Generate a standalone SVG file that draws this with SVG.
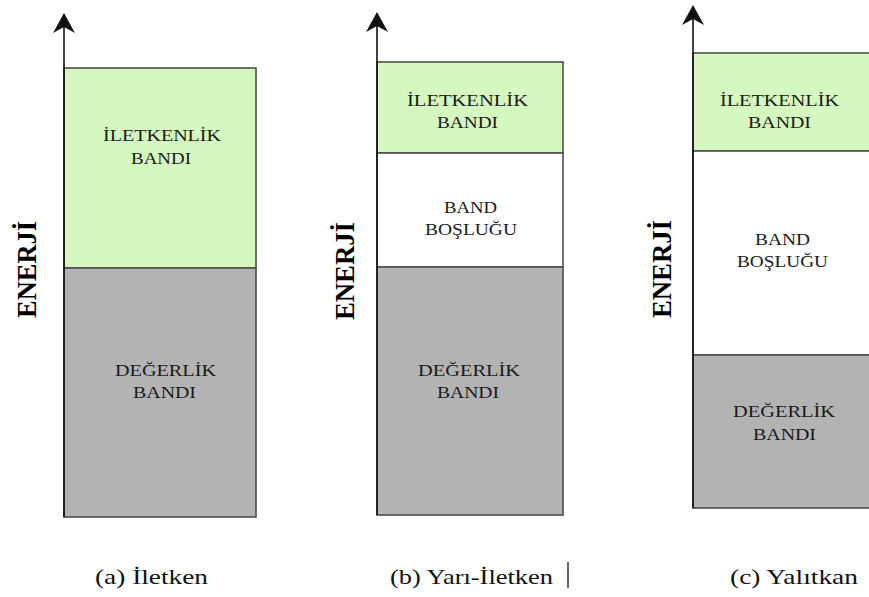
<svg xmlns="http://www.w3.org/2000/svg" width="869" height="597" viewBox="0 0 869 597">
<style>
.cb{fill:#d4f8bf;stroke:#4d4d4d;stroke-width:1.6}
.vb{fill:#b3b3b3;stroke:#4d4d4d;stroke-width:1.6}
.gap{fill:#ffffff;stroke:#4d4d4d;stroke-width:1.6}
text{font-family:'Liberation Serif','DejaVu Serif','Times New Roman',serif}
.lbl{font-size:17px;fill:#1a1a1a}
.cap{font-size:21px;fill:#111}
.en{font-size:28px;font-weight:bold;fill:#000}
.axis{stroke:#111;stroke-width:1.6;fill:none}
.head{fill:#111}
</style>
<rect width="869" height="597" fill="#ffffff"/>

<g id="panel-a">
  <rect class="cb" x="64" y="68" width="192" height="200"/>
  <rect class="vb" x="64" y="268" width="192" height="249"/>
  <text class="lbl" x="103" y="141" textLength="118" lengthAdjust="spacingAndGlyphs">İLETKENLİK</text>
  <text class="lbl" x="131" y="164" textLength="60" lengthAdjust="spacingAndGlyphs">BANDI</text>
  <text class="lbl" x="115" y="376" textLength="101" lengthAdjust="spacingAndGlyphs">DEĞERLİK</text>
  <text class="lbl" x="133" y="398" textLength="63" lengthAdjust="spacingAndGlyphs">BANDI</text>
  <text class="en" transform="translate(36,318) rotate(-90)" textLength="97" lengthAdjust="spacingAndGlyphs">ENERJİ</text>
  <text class="cap" x="95" y="584" textLength="113" lengthAdjust="spacingAndGlyphs">(a)  İletken</text>
</g>

<g id="panel-b">
  <rect class="cb" x="377" y="62" width="186" height="91"/>
  <rect class="gap" x="377" y="153" width="186" height="114"/>
  <rect class="vb" x="377" y="267" width="186" height="248"/>
  <text class="lbl" x="407" y="106" textLength="121" lengthAdjust="spacingAndGlyphs">İLETKENLİK</text>
  <text class="lbl" x="437" y="128" textLength="61" lengthAdjust="spacingAndGlyphs">BANDI</text>
  <text class="lbl" x="444" y="213" textLength="53" lengthAdjust="spacingAndGlyphs">BAND</text>
  <text class="lbl" x="425" y="235" textLength="92" lengthAdjust="spacingAndGlyphs">BOŞLUĞU</text>
  <text class="lbl" x="418" y="376" textLength="102" lengthAdjust="spacingAndGlyphs">DEĞERLİK</text>
  <text class="lbl" x="437" y="398" textLength="62" lengthAdjust="spacingAndGlyphs">BANDI</text>
  <text class="en" transform="translate(354,320) rotate(-90)" textLength="98" lengthAdjust="spacingAndGlyphs">ENERJİ</text>
  <text class="cap" x="390" y="584" textLength="163" lengthAdjust="spacingAndGlyphs">(b) Yarı-İletken</text>
  <line x1="568" y1="562" x2="568" y2="588" stroke="#333" stroke-width="1.5"/>
</g>

<g id="panel-c">
  <rect class="cb" x="693" y="53" width="190" height="98"/>
  <rect class="gap" x="693" y="151" width="190" height="204"/>
  <rect class="vb" x="693" y="355" width="190" height="153"/>
  <text class="lbl" x="720" y="106" textLength="119" lengthAdjust="spacingAndGlyphs">İLETKENLİK</text>
  <text class="lbl" x="748" y="128" textLength="63" lengthAdjust="spacingAndGlyphs">BANDI</text>
  <text class="lbl" x="755" y="245" textLength="55" lengthAdjust="spacingAndGlyphs">BAND</text>
  <text class="lbl" x="737" y="267" textLength="91" lengthAdjust="spacingAndGlyphs">BOŞLUĞU</text>
  <text class="lbl" x="733" y="417" textLength="102" lengthAdjust="spacingAndGlyphs">DEĞERLİK</text>
  <text class="lbl" x="753" y="440" textLength="63" lengthAdjust="spacingAndGlyphs">BANDI</text>
  <text class="en" transform="translate(671,318) rotate(-90)" textLength="98" lengthAdjust="spacingAndGlyphs">ENERJİ</text>
  <text class="cap" x="730" y="584" textLength="128" lengthAdjust="spacingAndGlyphs">(c) Yalıtkan</text>
</g>

<g id="connectors">
  <line class="axis" x1="64" y1="517" x2="64" y2="22"/>
  <path class="head" d="M64,13 L75,33 L64,27 L53,33 Z"/>
  <line class="axis" x1="377" y1="515" x2="377" y2="21"/>
  <path class="head" d="M377,12 L388,32 L377,26 L366,32 Z"/>
  <line class="axis" x1="693" y1="508" x2="693" y2="14"/>
  <path class="head" d="M693,5 L704,25 L693,19 L682,25 Z"/>
</g>
</svg>
